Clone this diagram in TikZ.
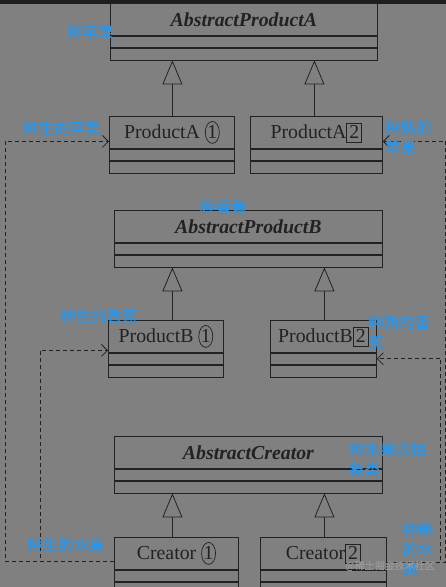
\documentclass[tikz,border=0pt]{standalone}
\usepackage{fontspec}
\setmainfont{Liberation Serif}
\newfontfamily\cjk{Noto Sans CJK SC}[FakeBold=0.6]
\usetikzlibrary{positioning,arrows.meta,shapes.geometric}

\definecolor{bggray}{RGB}{128,128,128}
\definecolor{topbar}{RGB}{30,30,30}
\definecolor{ink}{RGB}{34,34,34}
\definecolor{notecol}{RGB}{40,150,235}
\definecolor{wmcol}{RGB}{152,152,152}

\newcommand{\numcirc}[1]{\tikz[baseline=(c.base)]\node[ellipse, draw=ink, line width=0.7pt,
  inner sep=0pt, minimum width=14pt, minimum height=22pt](c){#1};}
\newcommand{\numbox}[1]{\tikz[baseline=(c.base)]\node[rectangle, draw=ink, line width=0.7pt,
  inner sep=0pt, minimum width=15pt, minimum height=19pt](c){#1};}
% one class = title + two empty compartments
\newcommand{\umlclass}[6]{%
  \node[#5, minimum width=#4pt] (#1) at (#2,#3) {#6};
  \node[attr, minimum width=#4pt] (#1a) at (#1.south west) {};
  \node[ops, minimum width=#4pt] (#1o) at (#1a.south west) {};
}

\begin{document}
\begin{tikzpicture}[x=1pt, y=-1pt,
    title/.style={draw=ink, line width=0.8pt, anchor=north west, minimum height=32pt,
                  inner sep=0pt, text=ink, font=\fontsize{19.8}{20}\selectfont},
    abstract/.style={title, font=\fontsize{19.8}{20}\selectfont\bfseries\itshape},
    attr/.style={draw=ink, line width=0.8pt, anchor=north west, minimum height=11pt, inner sep=0pt},
    ops/.style={attr, minimum height=12pt},
    inherit/.style={draw=ink, line width=0.8pt, -{Triangle[open, length=24pt, width=20pt]}},
    dep/.style={draw=ink, line width=0.8pt, dash pattern=on 4pt off 3pt,
                -{Straight Barb[length=6pt, width=12pt]}},
    note/.style={text=notecol, font=\cjk\fontsize{15.5}{20}\selectfont, inner sep=0pt, align=left}
  ]
    \useasboundingbox (0,0) rectangle (446,587);
    \fill[bggray] (0,0) rectangle (446,587);
    \fill[topbar] (0,0) rectangle (446,4);

    % products A
    \umlclass{apa}{110}{3}{267}{abstract}{AbstractProductA}
    \umlclass{pa1}{109}{116}{125}{title}{ProductA \numcirc{1}}
    \umlclass{pa2}{250}{116}{132}{title}{ProductA\numbox{2}}
    % products B
    \umlclass{apb}{114}{210}{268}{abstract}{AbstractProductB}
    \umlclass{pb1}{108}{320}{115}{title}{ProductB \numcirc{1}}
    \umlclass{pb2}{270}{320}{106}{title}{ProductB\numbox{2}}
    % creators
    \umlclass{ac}{114}{436}{268}{abstract}{AbstractCreator}
    \umlclass{c1}{114}{537}{124}{title}{Creator \numcirc{1}}
    \umlclass{c2}{260}{537}{126}{title}{Creator\numbox{2}}

    \draw[inherit] ([xshift=0.5pt]pa1.north) -- ([xshift=0.5pt]pa1.north |- apao.south);
    \draw[inherit] ([xshift=-2pt]pa2.north) -- ([xshift=-2pt]pa2.north |- apao.south);
    \draw[inherit] ([xshift=6.5pt]pb1.north) -- ([xshift=6.5pt]pb1.north |- apbo.south);
    \draw[inherit] ([xshift=1pt]pb2.north) -- ([xshift=1pt]pb2.north |- apbo.south);
    \draw[inherit] ([xshift=-4pt]c1.north) -- ([xshift=-4pt]c1.north |- aco.south);
    \draw[inherit] ([xshift=1pt]c2.north) -- ([xshift=1pt]c2.north |- aco.south);

    \draw[dep] ([yshift=-8pt]c1.west) -- ++(-109,0) |- ([yshift=-9pt]pa1.west);
    \draw[dep] ([yshift=-8pt]c1.west) -- ++(-74,0) |- ([yshift=-14pt]pb1.west);
    \draw[dep] ([yshift=-9pt]c2.east) -- ++(59,0) |- ([yshift=-9pt]pa2.east);
    \draw[dep] ([yshift=-9pt]c2.east) -- ++(54,0) |- (pb2a.east);

    % notes
    \node[note, anchor=west] (n1) at (67,32) {种苹果};
    \node[note, anchor=west] (n2) at (23,128) {种生的苹果};
    \node[note, anchor=north west] (n3) at (385,120) {种熟的\\苹果};
    \node[note, anchor=west] (n4) at (200,207) {种香蕉};
    \node[note, anchor=west] (n5) at (60,316) {种生的香蕉};
    \node[note, anchor=north west] (n6) at (368,315) {种熟的香\\蕉};
    \node[note, anchor=north west] (n7) at (349,442) {种水果的抽\\象类};
    \node[note, anchor=west] (n8) at (27,545) {种生的水果};
    \node[note, anchor=north west] (n9) at (402,522) {种熟\\的水\\果};
    \node[text=wmcol, font=\cjk\fontsize{10}{10}\selectfont, inner sep=0pt] (wm) at (390,566) {@稀土掘金技术社区};
\end{tikzpicture}
\end{document}
